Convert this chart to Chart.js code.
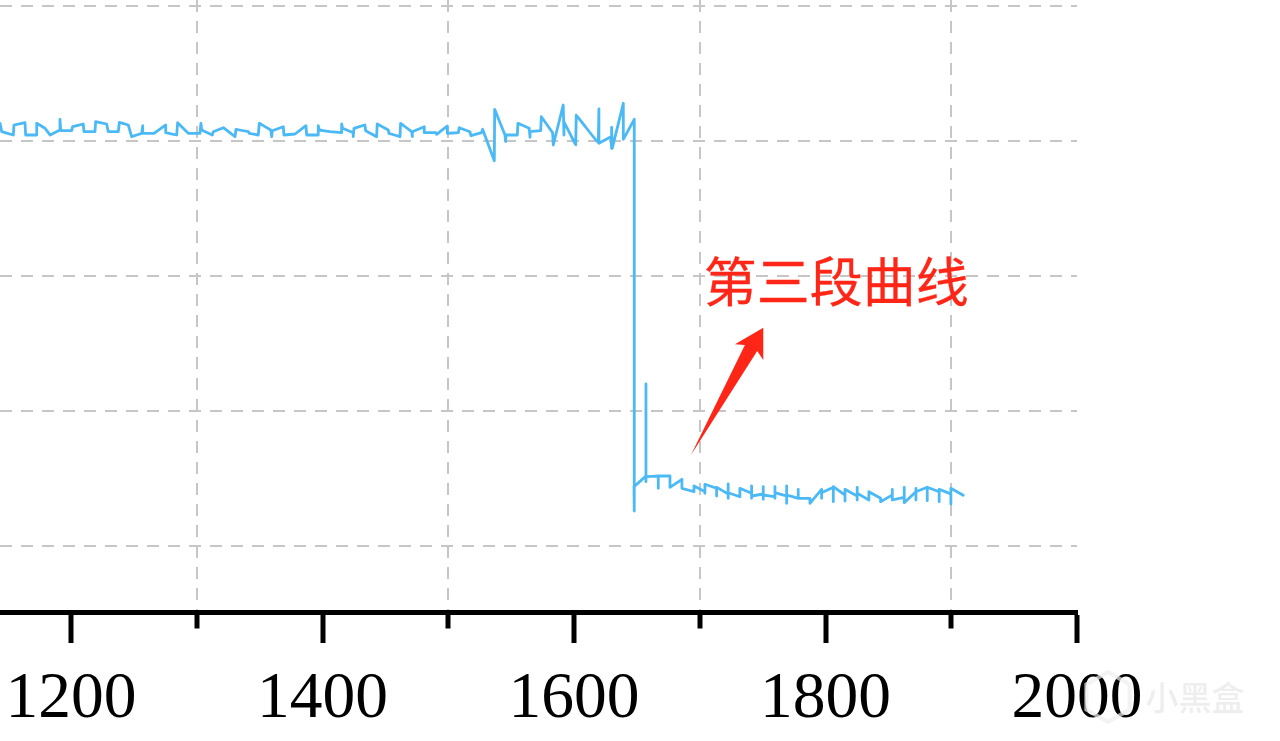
<!DOCTYPE html>
<html>
<head>
<meta charset="utf-8">
<style>html,body{margin:0;padding:0;background:#fff}canvas{display:block}</style>
<script src="https://cdn.jsdelivr.net/npm/chart.js@4/dist/chart.umd.min.js"></script>
</head>
<body>
<canvas id="c" width="1280" height="741"></canvas>
<script>
const xValues = [
1143.5,1144.9,1154.1,1154.6,1163.4,1163.9,1172.7,1172.7,1179.3,1183.3,1191.2,1191.2,1191.8,1200.5,1201.3,1209.7,1210.3,1219.0,1219.6,1228.3,1229.6,1237.6,1238.4,1245.5,1248.2,1256.2,1257.0,1257.0,1266.0,1275.3,1275.3,1284.0,1284.8,1293.2,1302.5,1303.3,1303.9,1312.3,1313.1,1321.1,1330.4,1331.2,1341.0,1341.7,1348.9,1349.7,1358.8,1359.6,1360.0,1368.8,1369.3,1378.1,1386.8,1387.4,1396.6,1396.6,1397.4,1405.9,1415.2,1415.2,1416.0,1424.4,1424.4,1425.0,1433.7,1434.3,1443.0,1443.5,1452.3,1452.8,1461.6,1462.1,1470.9,1471.4,1471.4,1480.9,1480.9,1490.2,1490.8,1499.2,1499.2,1508.0,1508.7,1517.2,1518.0,1526.5,1527.3,1536.6,1536.9,1545.1,1545.6,1545.9,1554.9,1555.4,1564.4,1565.0,1565.0,1573.5,1574.0,1583.0,1583.5,1591.4,1592.0,1592.0,1601.3,1601.8,1619.3,1619.8,1619.8,1629.4,1629.9,1629.9,1630.4,1639.2,1639.2,1647.9,1647.9,
1647.7,1657.2,1657.2,1657.2,1657.2,1667.0,1667.0,1667.0,1676.3,1676.3,1685.8,1685.8,1695.4,1695.4,1704.1,1704.1,1704.1,1713.4,1713.4,1713.4,1722.6,1722.6,1722.6,1722.6,1731.9,1731.9,1741.2,1741.2,1741.2,1741.2,1750.5,1750.5,1750.5,1750.5,1759.8,1759.8,1759.8,1759.8,1769.1,1769.1,1769.1,1769.1,1778.3,1778.3,1778.3,1787.6,1787.6,1796.9,1796.9,1796.9,1806.2,1806.2,1806.2,1815.5,1815.5,1815.5,1825.2,1825.2,1825.2,1825.2,1834.5,1834.5,1843.8,1843.8,1853.1,1853.1,1853.1,1862.6,1862.6,1862.6,1871.9,1871.9,1871.9,1871.9,1880.9,1880.9,1880.9,1890.4,1890.4,1890.4,1899.7,1899.7,1899.7,1909.5
];
const yValues = [
422.7,414.3,411,421,423.3,411,411,422.7,417.7,411,416,426.7,415.3,415.3,419.3,422,414.3,414.3,424.3,422,414.3,414.3,423.7,421,409.3,412.7,420.3,412.7,412.7,421,413.3,411,423.3,412.7,412.7,422.7,416,411,414.3,418.3,409.3,416.7,414.3,412.7,411,422.7,416,409.3,415.3,419.3,411,412,420.3,411,411,420.3,416,414.3,413.3,422,417.7,413.3,409.3,417.7,421,415.3,409.3,422,416,412.7,409.3,422.7,414.3,409.3,414.3,419.3,413.3,413.3,411.7,420,412.7,413.3,418.3,414.3,410.3,413.3,416.7,385.3,436.7,411,404.3,411,411,422.7,417.7,408.7,414.3,415.3,429.3,413.3,401,441,411,424.3,401,431,402.7,437,402.7,409.3,397.7,418.7,397.7,442.7,406.7,426.7,35,
59.3,70,162,64.3,69.3,70,57.7,70,70,58.7,66.7,57.7,54.3,60,54.3,52.7,61.7,57.7,50,58.7,52,47.7,62,53.3,49.3,57.7,52.7,47.7,60,50,52,59.3,46.7,51,49.3,59.3,47.7,53.3,50,60,42.7,51,47.7,56.7,47.7,47.7,42.7,56.7,47.7,53.3,58.7,44.3,59.3,51,45,56.7,50,58.7,46,52.7,46,54.3,47.7,44.3,51,56.7,46,48.7,58.7,43.3,54.3,57.7,46,54.3,58.7,45.3,58.7,54.3,44.3,56.7,52,42,57.7,50.7
];
const xTicks = [1200,1400,1600,1800,2000];
const annotationText = "第三段曲线";
const annotationAt = [1808.5,264];
const arrowXs = [1693,1735.9,1728,1750.5,1750.5,1745.7];
const arrowYs = [91,201,201.7,218.3,186,195];
const watermarkText = "小黑盒";

const GRID = '#c6c6c6';
const LINE = '#4cb9f7';
const RED = '#ff2618';

const overlay = {
  id:'overlay',
  afterDraw(chart){
    const {ctx,scales:{x,y}} = chart;
    ctx.save();
    ctx.fillStyle = RED;
    ctx.beginPath();
    arrowXs.forEach((v,i)=>{
      const px=x.getPixelForValue(v), py=y.getPixelForValue(arrowYs[i]);
      i?ctx.lineTo(px,py):ctx.moveTo(px,py);
    });
    ctx.closePath(); ctx.fill();
    ctx.font = '400 53px "Noto Sans CJK SC"';
    ctx.textAlign='center'; ctx.textBaseline='middle';
    const tx=x.getPixelForValue(annotationAt[0]), ty=y.getPixelForValue(annotationAt[1]);
    ctx.fillText(annotationText,tx,ty);
    ctx.strokeStyle=RED; ctx.lineWidth=0.3;
    ctx.strokeText(annotationText,tx,ty);
    // watermark
    ctx.strokeStyle='rgba(238,238,238,0.7)';
    ctx.lineWidth=4;
    ctx.beginPath();
    for(let i=0;i<6;i++){
      const a=Math.PI/3*i+Math.PI/6, r=25;
      const hx=1108+r*Math.cos(a), hy=697+r*Math.sin(a);
      i?ctx.lineTo(hx,hy):ctx.moveTo(hx,hy);
    }
    ctx.closePath(); ctx.stroke();
    ctx.fillStyle='#eeeeee';
    ctx.font='500 33px "Noto Sans CJK SC"';
    ctx.textAlign='center';
    ctx.fillText(watermarkText,1195,697);
    ctx.restore();
  }
};

new Chart(document.getElementById('c'),{
  type:'line',
  data:{datasets:[{
    data:xValues.map((v,i)=>({x:v,y:yValues[i]})),
    borderColor:LINE,borderWidth:2.8,pointRadius:0,tension:0.0001,fill:false,
    borderJoinStyle:'round',borderCapStyle:'round'
  }]},
  options:{
    responsive:false,animation:false,
    layout:{padding:{left:0,right:203,top:0,bottom:0}},
    plugins:{legend:{display:false},tooltip:{enabled:false},title:{display:false}},
    scales:{
      x:{
        type:'linear',min:1143.5,max:2000,
        afterFit(s){s.height=129;s.paddingLeft=0;s.paddingRight=0;},
        border:{display:true,color:'#000',width:5,dash:[12,9]},
        grid:{
          drawOnChartArea:true,drawTicks:true,tickLength:31,
          color:c=>c.tick&&c.tick.value%200===100?GRID:'rgba(0,0,0,0)',
          lineWidth:2,
          tickColor:'#000',tickWidth:5,
          tickBorderDash:c=>c.tick&&c.tick.value%200===100?[13.5,100]:[]
        },
        ticks:{
          stepSize:100,includeBounds:false,autoSkip:false,maxRotation:0,minRotation:0,
          padding:17,color:'#000',
          font:{family:'"Liberation Serif"',size:65.5},
          callback:v=>xTicks.includes(v)?String(v):''
        }
      },
      y:{
        type:'linear',min:-66,max:546,
        afterFit(s){s.width=0;},
        border:{display:false,dash:[12,9]},
        grid:{color:GRID,lineWidth:2,drawTicks:false},
        ticks:{display:false,stepSize:135,includeBounds:false}
      }
    }
  },
  plugins:[overlay]
});
</script>
</body>
</html>
